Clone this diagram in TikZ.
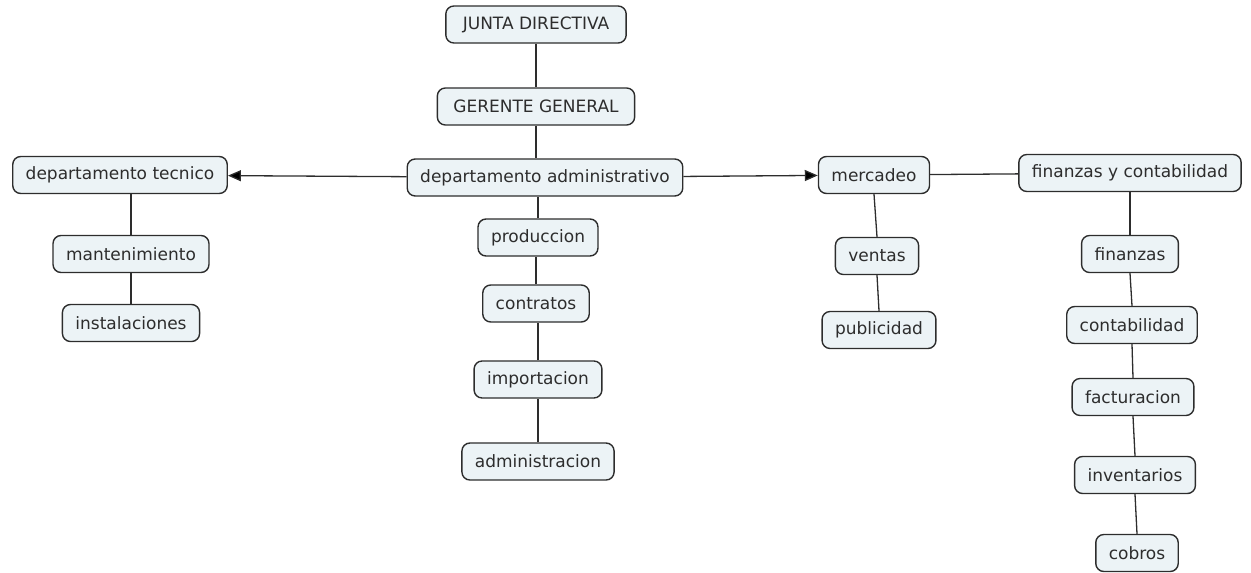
\documentclass[tikz,border=0pt]{standalone}
\usepackage{fontspec}
\setmainfont{DejaVu Sans}
\usepackage{tikz}
\usetikzlibrary{arrows.meta}
\usetikzlibrary{positioning}
\definecolor{boxfill}{RGB}{236,243,246}
\definecolor{boxline}{RGB}{45,45,45}
\tikzset{
    unit/.style={
           rectangle,
           rounded corners=8pt,
           draw=boxline, line width=1.4pt,
           fill=boxfill,
           text=boxline,
           minimum height=37pt,
           inner xsep=13pt,
           text centered,
           font=\fontsize{17}{20}\selectfont,
           },
    link/.style={draw=boxline, line width=1.3pt},
}

\begin{document}
\begin{tikzpicture}[->,>={Triangle[length=13pt,width=11pt]}]
 \useasboundingbox (0,0) rectangle (1251pt,-573pt);
 % top of the chart
 \node[unit, inner xsep=17pt] (JD) at (536pt,-24.5pt) {JUNTA DIRECTIVA};
 \node[unit, inner xsep=16pt, below of=JD, node distance=82pt] (GG) {GERENTE GENERAL};
 \node[unit, below of=GG, node distance=71pt, xshift=9pt] (DA) {departamento administrativo};
 % left branch
 \node[unit] (DT) at (120pt,-175pt) {departamento tecnico};
 \node[unit, below of=DT, node distance=79pt, xshift=11pt] (MA) {mantenimiento};
 \node[unit, below of=MA, node distance=69pt] (IN) {instalaciones};
 % middle column
 \node[unit, below of=DA, node distance=60pt, xshift=-7pt] (PR) {produccion};
 \node[unit, below of=PR, node distance=66pt, xshift=-2pt] (CO) {contratos};
 \node[unit, below of=CO, node distance=76pt, xshift=2pt] (IM) {importacion};
 \node[unit, below of=IM, node distance=82pt] (AD) {administracion};
 % right branch
 \node[unit] (ME) at (874pt,-175pt) {mercadeo};
 \node[unit, below of=ME, node distance=81pt, xshift=3pt] (VE) {ventas};
 \node[unit, below of=VE, node distance=74pt, xshift=2pt] (PU) {publicidad};
 \node[unit] (FC) at (1130pt,-173pt) {finanzas y contabilidad};
 \node[unit, below of=FC, node distance=81pt] (FI) {finanzas};
 \node[unit, below of=FI, node distance=71pt, xshift=2pt] (CB) {contabilidad};
 \node[unit, below of=CB, node distance=72pt, xshift=1pt] (FA) {facturacion};
 \node[unit, below of=FA, node distance=78pt, xshift=2pt] (IV) {inventarios};
 \node[unit, below of=IV, node distance=78pt, xshift=2pt] (CR) {cobros};
 % connectors
 \path[link]
  (DA) edge (DT)
  (DA) edge (ME);
 \path[link,-]
  (ME) edge (FC)
  (JD.south) edge (GG.north)
  (GG.south) edge (GG.south |- DA.north)
  (PR.north) edge (PR.north |- DA.south)
  (CO.north) edge (CO.north |- PR.south)
  (IM.north) edge (IM.north |- CO.south)
  (AD.north) edge (AD.north |- IM.south)
  (MA.north) edge (MA.north |- DT.south)
  (MA.south) edge (MA.south |- IN.north)
  (ME.south) edge (VE.north)
  (VE.south) edge (PU.north)
  (FC.south) edge (FI.north)
  (FI.south) edge (CB.north)
  (CB.south) edge (FA.north)
  (FA.south) edge (IV.north)
  (IV.south) edge (CR.north);
\end{tikzpicture}
\end{document}
